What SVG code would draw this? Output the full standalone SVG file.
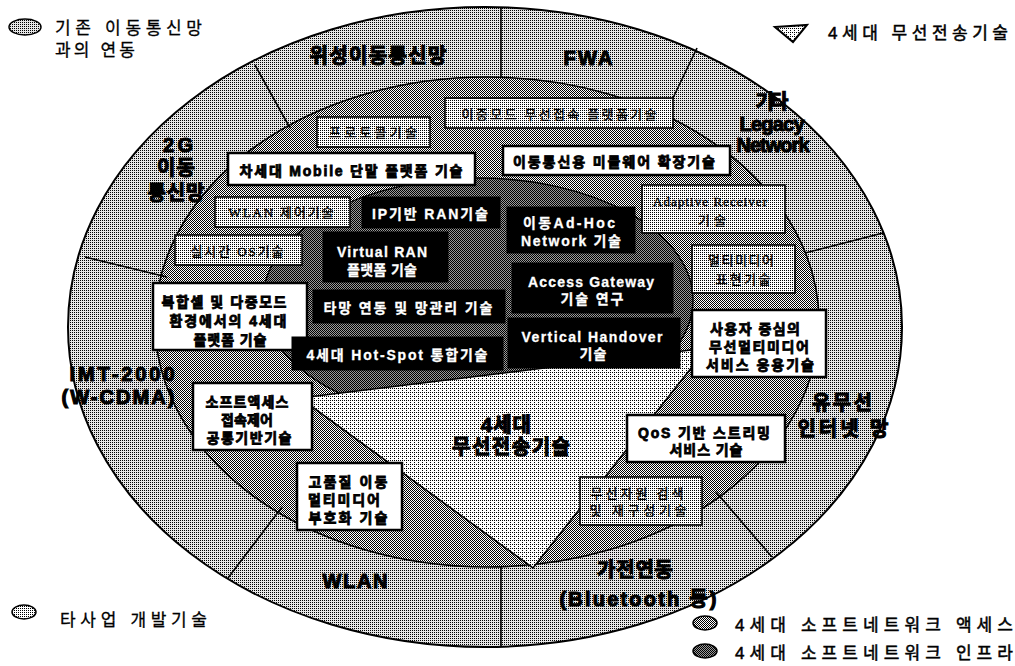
<svg xmlns="http://www.w3.org/2000/svg" width="1015" height="666" viewBox="0 0 1015 666">
<style>
text{font-family:"Liberation Sans","Noto Sans CJK KR",sans-serif;fill:#000}
.lbl{font-weight:bold;font-size:20px;text-anchor:middle;stroke:#000;stroke-width:1.1}
.leg{font-size:17px;stroke:#000;stroke-width:0.3}
.legb{font-size:17px;stroke:#000;stroke-width:0.5}
.bw{fill:#fff;stroke:#000;stroke-width:2.5}
.bb{fill:#000;stroke:#000;stroke-width:1}
.bp{fill:url(#pBox);stroke:#000;stroke-width:1.6}
.tw{font-weight:bold;font-size:14px;text-anchor:middle;stroke:#000;stroke-width:0.8}
.tb{font-weight:bold;font-size:14px;text-anchor:middle;fill:#fff;stroke:#fff;stroke-width:0.3}
.ts{font-family:"Liberation Serif","Noto Sans CJK KR",serif;font-size:13px;text-anchor:middle;fill:#000;stroke:#000;stroke-width:0.35}
.rad{stroke:#000;stroke-width:1.6;fill:none}
</style>
<defs>
<pattern id="pLight" width="2" height="2" patternUnits="userSpaceOnUse"><rect width="2" height="2" fill="#e6e6e6"/><rect width="1" height="1" fill="#000"/></pattern>
<pattern id="pTri" width="4" height="4" patternUnits="userSpaceOnUse"><rect width="4" height="4" fill="#fff"/><rect width="1" height="1" fill="#000"/><rect x="2" y="2" width="1" height="1" fill="#000"/><rect x="2" y="0" width="1" height="1" fill="#000"/></pattern>
<pattern id="pMed" width="2" height="2" patternUnits="userSpaceOnUse"><rect width="2" height="2" fill="#fff"/><rect width="1" height="1" fill="#000"/><rect x="1" y="1" width="1" height="1" fill="#000"/></pattern>
<pattern id="pDark" width="2" height="2" patternUnits="userSpaceOnUse"><rect width="2" height="2" fill="#9a9a9a"/><rect width="1" height="1" fill="#000"/><rect x="1" y="1" width="1" height="1" fill="#000"/></pattern>
<pattern id="pBox" width="4" height="4" patternUnits="userSpaceOnUse"><rect width="4" height="4" fill="#fff"/><rect width="1" height="1" fill="#000"/><rect x="2" y="2" width="1" height="1" fill="#000"/><rect x="2" y="0" width="1" height="1" fill="#000"/><rect x="0" y="2" width="1" height="1" fill="#000"/></pattern>
</defs>

<g id="region-outer"><ellipse cx="485" cy="327" rx="417" ry="320" fill="url(#pLight)" stroke="#000" stroke-width="2"/></g>
<g id="region-access"><ellipse cx="487" cy="322" rx="332" ry="245" fill="url(#pMed)" stroke="#000" stroke-width="1.6"/></g>
<g id="region-infra"><ellipse cx="478" cy="300" rx="215" ry="122" fill="url(#pDark)" stroke="#000" stroke-width="1.4"/></g>
<g id="region-4g"><polygon points="300,398 707,348 533,568" fill="url(#pTri)" stroke="#000" stroke-width="1.6"/></g>

<g id="connectors">
<line class="rad" x1="255" y1="65" x2="290" y2="128"/>
<line class="rad" x1="501" y1="7" x2="501" y2="77"/>
<line class="rad" x1="697" y1="48" x2="672" y2="100"/>
<line class="rad" x1="805" y1="253" x2="883" y2="233"/>
<line class="rad" x1="716" y1="492" x2="772" y2="557"/>
<line class="rad" x1="501" y1="567" x2="501" y2="647"/>
<line class="rad" x1="282" y1="507" x2="228" y2="578"/>
<line class="rad" x1="85" y1="257" x2="167" y2="277"/>
</g>

<g id="ring-labels">
<text class="lbl" x="378" y="63" textLength="137">위성이동통신망</text>
<text class="lbl" x="588" y="65" font-size="22" textLength="49">FWA</text>
<text class="lbl" x="772" y="109" font-size="18" textLength="33">기타</text>
<text class="lbl" x="772" y="131" font-size="18" textLength="65">Legacy</text>
<text class="lbl" x="773" y="152" font-size="18" textLength="73">Network</text>
<text class="lbl" x="178" y="152" font-size="19" textLength="30">2G</text>
<text class="lbl" x="176" y="175" font-size="19" textLength="38">이동</text>
<text class="lbl" x="176" y="200" font-size="19" textLength="57">통신망</text>
<text class="lbl" x="122" y="381" textLength="105">IMT-2000</text>
<text class="lbl" x="118" y="404" textLength="113">(W-CDMA)</text>
<text class="lbl" x="842" y="410" textLength="60">유무선</text>
<text class="lbl" x="843" y="436" textLength="91">인터넷 망</text>
<text class="lbl" x="355" y="588" textLength="65">WLAN</text>
<text class="lbl" x="635" y="577" textLength="76">가전연동</text>
<text class="lbl" x="638" y="606" textLength="157">(Bluetooth 등)</text>
<text class="lbl" x="506" y="432" textLength="50">4세대</text>
<text class="lbl" x="511" y="454" textLength="118">무선전송기술</text>
</g>

<g id="node-protocol"><rect class="bp" x="317" y="117" width="113" height="30"/><text class="ts" x="373" y="137" textLength="88">프로토콜기술</text></g>
<g id="node-dualmode"><rect class="bp" x="445" y="98" width="228" height="30"/><text class="ts" x="559" y="119" textLength="195">이중모드 무선접속 플랫폼기술</text></g>
<g id="node-mobile"><rect class="bw" x="228" y="153" width="247" height="32"/><text class="tw" x="351" y="176" font-size="15" textLength="223">차세대 Mobile 단말 플랫폼 기술</text></g>
<g id="node-middleware"><rect class="bw" x="503" y="146" width="227" height="29"/><text class="tw" x="614" y="167" font-size="15" textLength="202">이동통신용 미들웨어 확장기술</text></g>
<g id="node-wlanctl"><rect class="bp" x="215" y="197" width="135" height="30"/><text class="ts" x="281" y="217" textLength="105">WLAN 제어기술</text></g>
<g id="node-iprans"><rect class="bb" x="362" y="197" width="138" height="31"/><text class="tb" x="430" y="219" textLength="116">IP기반 RAN기술</text></g>
<g id="node-adaptive"><rect class="bp" x="642" y="185" width="143" height="48"/><text class="ts" x="710" y="206" textLength="114">Adaptive Receiver</text><text class="ts" x="712" y="225" textLength="28">기술</text></g>
<g id="node-adhoc"><rect class="bb" x="507" y="207" width="128" height="46"/><text class="tb" x="569" y="228" textLength="92">이동Ad-Hoc</text><text class="tb" x="571" y="246" textLength="100">Network 기술</text></g>
<g id="node-rtos"><rect class="bp" x="175" y="235" width="127" height="30"/><text class="ts" x="237" y="256" textLength="93">실시간 OS기술</text></g>
<g id="node-vran"><rect class="bb" x="323" y="232" width="125" height="50"/><text class="tb" x="382" y="257" textLength="90">Virtual RAN</text><text class="tb" x="382" y="275" textLength="70">플랫폼 기술</text></g>
<g id="node-multimedia"><rect class="bp" x="692" y="245" width="103" height="48"/><text class="ts" x="741" y="265" textLength="66">멀티미디어</text><text class="ts" x="743" y="284" textLength="55">표현기술</text></g>
<g id="node-gateway"><rect class="bb" x="512" y="263" width="161" height="50"/><text class="tb" x="591" y="287" textLength="126">Access Gateway</text><text class="tb" x="592" y="304" textLength="63">기술 연구</text></g>
<g id="node-multicell"><rect class="bw" x="153" y="283" width="154" height="67"/><text class="tw" x="224" y="307" textLength="125">복합셀 및 다중모드</text><text class="tw" x="228" y="326" textLength="117">환경에서의 4세대</text><text class="tw" x="230" y="345" textLength="73">플랫폼 기술</text></g>
<g id="node-interwork"><rect class="bb" x="313" y="290" width="192" height="33"/><text class="tb" x="408" y="313" textLength="169">타망 연동 및 망관리 기술</text></g>
<g id="node-usercentric"><rect class="bw" x="692" y="310" width="134" height="67"/><text class="tw" x="755" y="334" textLength="90">사용자 중심의</text><text class="tw" x="759" y="352" textLength="100">무선멀티미디어</text><text class="tw" x="760" y="370" textLength="108">서비스 응용기술</text></g>
<g id="node-handover"><rect class="bb" x="508" y="318" width="172" height="50"/><text class="tb" x="592" y="342" textLength="141">Vertical Handover</text><text class="tb" x="593" y="359" textLength="27">기술</text></g>
<g id="node-hotspot"><rect class="bb" x="292" y="337" width="211" height="33"/><text class="tb" x="397" y="360" textLength="181">4세대 Hot-Spot 통합기술</text></g>
<g id="node-softaccess"><rect class="bw" x="193" y="383" width="119" height="67"/><text class="tw" x="247" y="407" textLength="83">소프트액세스</text><text class="tw" x="247" y="425" textLength="52">접속제어</text><text class="tw" x="249" y="443" textLength="85">공통기반기술</text></g>
<g id="node-qos"><rect class="bw" x="627" y="415" width="158" height="47"/><text class="tw" x="704" y="438" textLength="132">QoS 기반 스트리밍</text><text class="tw" x="706" y="455" textLength="73">서비스 기술</text></g>
<g id="node-codec"><rect class="bw" x="297" y="463" width="105" height="67"/><text class="tw" x="348" y="487" textLength="79">고품질 이동</text><text class="tw" x="344" y="505" textLength="72">멀티미디어</text><text class="tw" x="348" y="523" textLength="79">부호화 기술</text></g>
<g id="node-radio"><rect class="bp" x="580" y="477" width="122" height="48"/><text class="ts" x="637" y="498" textLength="93">무선자원 검색</text><text class="ts" x="638" y="515" textLength="97">및 재구성기술</text></g>

<g id="legend">
<ellipse cx="25" cy="27" rx="16" ry="8" fill="url(#pLight)" stroke="#000" stroke-width="1.5"/>
<text class="leg" x="55" y="34" textLength="147">기존 이동통신망</text>
<text class="leg" x="55" y="56" textLength="80">과의 연동</text>
<polygon points="775,27 807,25 793,42" fill="url(#pTri)" stroke="#000" stroke-width="2"/>
<text class="legb" x="828" y="39" textLength="180">4세대 무선전송기술</text>
<ellipse cx="24" cy="612" rx="12" ry="7" fill="url(#pBox)" stroke="#000" stroke-width="1.5"/>
<text class="leg" x="60" y="626" textLength="147">타사업 개발기술</text>
<ellipse cx="705" cy="623" rx="12" ry="7" fill="url(#pMed)" stroke="#000" stroke-width="1.5"/>
<text class="legb" x="735" y="631" textLength="278">4세대 소프트네트워크 액세스</text>
<ellipse cx="705" cy="651" rx="12" ry="7" fill="url(#pDark)" stroke="#000" stroke-width="1.5"/>
<text class="legb" x="735" y="659" textLength="278">4세대 소프트네트워크 인프라</text>
</g>
</svg>
